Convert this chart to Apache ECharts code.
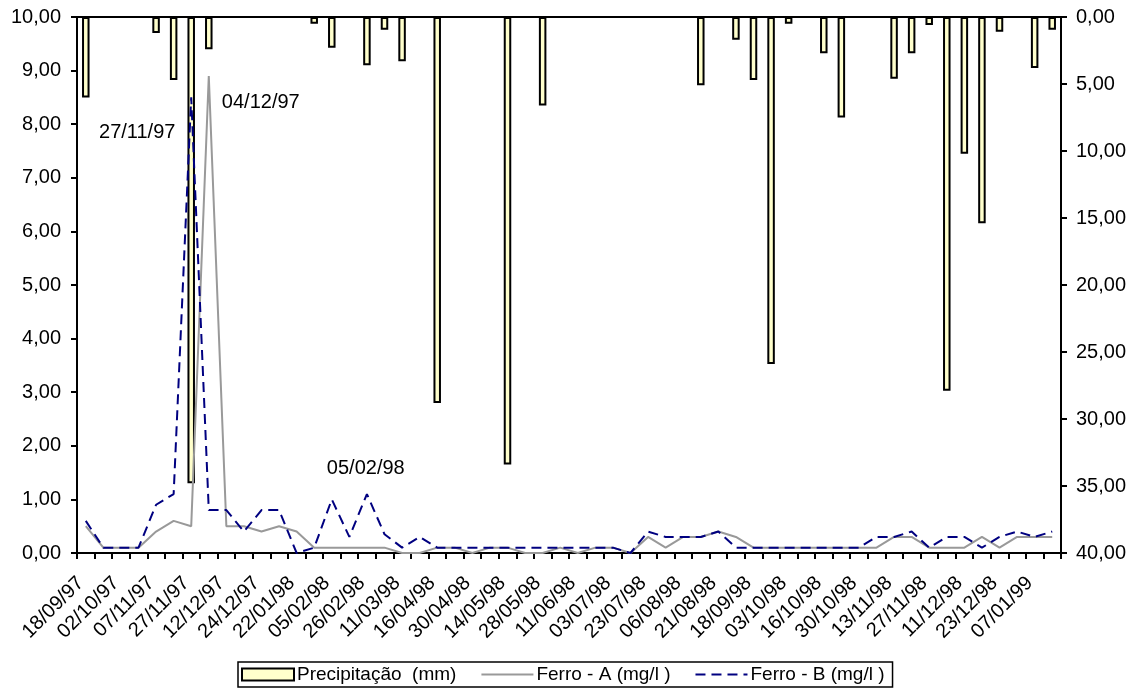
<!DOCTYPE html>
<html>
<head>
    <meta charset="utf-8">
    <title>Precipitação e Ferro</title>
    <script src="https://cdn.jsdelivr.net/npm/echarts@6.0.0/dist/echarts.min.js"></script>
    <style>
        html, body { margin: 0; padding: 0; background: #fff; }
        #chart1 { width: 1132px; height: 693px; }
    </style>
</head>
<body>
<div id="chart1"></div>
<script type="text/javascript">
    // datas das coletas (só as pares aparecem no eixo)
    var datas = [
        '18/09/97', '25/09/97', '02/10/97', '23/10/97', '07/11/97', '20/11/97', '27/11/97', '04/12/97',
        '12/12/97', '18/12/97', '24/12/97', '08/01/98', '22/01/98', '29/01/98', '05/02/98', '12/02/98',
        '26/02/98', '05/03/98', '11/03/98', '26/03/98', '16/04/98', '23/04/98', '30/04/98', '07/05/98',
        '14/05/98', '21/05/98', '28/05/98', '04/06/98', '11/06/98', '25/06/98', '03/07/98', '16/07/98',
        '23/07/98', '30/07/98', '06/08/98', '13/08/98', '21/08/98', '04/09/98', '18/09/98', '25/09/98',
        '03/10/98', '09/10/98', '16/10/98', '23/10/98', '30/10/98', '06/11/98', '13/11/98', '20/11/98',
        '27/11/98', '04/12/98', '11/12/98', '17/12/98', '23/12/98', '30/12/98', '07/01/99', '14/01/99'
    ];

    // precipitação (mm), eixo da direita invertido
    var precipitacao = [
        6.0, null, null, null, 1.2, 4.7, 34.8, 2.4,
        null, null, null, null, null, 0.5, 2.3, null,
        3.6, 0.95, 3.3, null, 28.8, null, null, null,
        33.4, null, 6.6, null, null, null, null, null,
        null, null, null, 5.1, null, 1.7, 4.7, 25.9,
        0.5, null, 2.7, 7.5, null, null, 4.6, 2.7,
        0.6, 27.9, 10.2, 15.4, 1.1, null, 3.8, 0.95
    ];

    // Ferro - A (mg/l)
    var ferroA = [
        0.5, 0.1, 0.1, 0.1, 0.4, 0.6, 0.5, 8.9,
        0.5, 0.5, 0.4, 0.5, 0.4, 0.1, 0.1, 0.1,
        0.1, 0.1, 0, 0, 0.1, 0.1, 0, 0.1,
        0.1, 0, 0, 0.1, 0, 0.1, 0.1, 0,
        0.3, 0.1, 0.3, 0.3, 0.4, 0.3, 0.1, 0.1,
        0.1, 0.1, 0.1, 0.1, 0.1, 0.1, 0.3, 0.3,
        0.1, 0.1, 0.1, 0.3, 0.1, 0.3, 0.3, 0.3
    ];

    // Ferro - B (mg/l)
    var ferroB = [
        0.6, 0.1, 0.1, 0.1, 0.9, 1.1, 8.5, 0.8,
        0.8, 0.4, 0.8, 0.8, 0.0, 0.1, 1.0, 0.3,
        1.1, 0.35, 0.1, 0.3, 0.1, 0.1, 0.1, 0.1,
        0.1, 0.1, 0.1, 0.1, 0.1, 0.1, 0.1, 0,
        0.4, 0.3, 0.3, 0.3, 0.4, 0.1, 0.1, 0.1,
        0.1, 0.1, 0.1, 0.1, 0.1, 0.3, 0.3, 0.4,
        0.1, 0.3, 0.3, 0.1, 0.3, 0.4, 0.3, 0.4
    ];

    var fonte = "'Liberation Sans', Arial, sans-serif";

    function virgula(v) {
        return v.toFixed(2).replace('.', ',');
    }

    var myChart1 = echarts.init(document.getElementById('chart1'));

    myChart1.setOption({
        animation: false,
        backgroundColor: '#fff',
        textStyle: { fontFamily: fonte, color: '#000' },
        grid: {
            left: 77, right: 71, top: 17, bottom: 140,
            containLabel: false,
            outerBoundsMode: 'none',
            show: true,
            borderColor: '#000',
            borderWidth: 2
        },
        legend: {
            left: 238,
            top: 662,
            orient: 'horizontal',
            borderColor: '#000',
            borderWidth: 1.5,
            padding: [3, 8, 3, 3],
            itemWidth: 52,
            itemHeight: 12,
            itemGap: 24,
            textStyle: { fontSize: 19, color: '#000', fontFamily: fonte, padding: [0, 0, 0, -2] },
            data: [
                { name: 'Precipitação  (mm)', icon: 'rect' },
                { name: 'Ferro - A (mg/l )', itemStyle: { opacity: 0 } },
                { name: 'Ferro - B (mg/l )', itemStyle: { opacity: 0 }, lineStyle: { type: [10, 6] } }
            ]
        },
        xAxis: {
            type: 'category',
            data: datas,
            boundaryGap: true,
            axisLine: { show: true, lineStyle: { color: '#000', width: 2 } },
            axisTick: { show: true, interval: 0, length: 6, lineStyle: { color: '#000', width: 2 } },
            axisLabel: {
                interval: 1,
                rotate: 45,
                margin: 22,
                padding: [0, 7, 0, 0],
                fontSize: 20,
                color: '#000',
                fontFamily: fonte
            },
            splitLine: { show: false }
        },
        yAxis: [
            {
                type: 'value',
                min: 0, max: 10, interval: 1,
                axisLine: { show: true, lineStyle: { color: '#000', width: 2 } },
                axisTick: { show: true, length: 6, lineStyle: { color: '#000', width: 2 } },
                axisLabel: { fontSize: 20, color: '#000', margin: 16, formatter: virgula, fontFamily: fonte },
                splitLine: { show: false }
            },
            {
                type: 'value',
                min: 0, max: 40, interval: 5,
                inverse: true,
                position: 'right',
                axisLine: { show: true, lineStyle: { color: '#000', width: 2 } },
                axisTick: { show: true, length: 6, lineStyle: { color: '#000', width: 2 } },
                axisLabel: { fontSize: 20, color: '#000', margin: 15, formatter: virgula, fontFamily: fonte },
                splitLine: { show: false }
            }
        ],
        series: [
            {
                name: 'Precipitação  (mm)',
                type: 'bar',
                yAxisIndex: 1,
                barWidth: 7.5,
                data: precipitacao,
                itemStyle: { color: '#FFFFCC', borderColor: '#000', borderWidth: 2 },
                z: 1
            },
            {
                name: 'Ferro - A (mg/l )',
                type: 'line',
                yAxisIndex: 0,
                symbol: 'none',
                data: ferroA,
                lineStyle: { color: '#999999', width: 2 },
                itemStyle: { color: '#999999' },
                z: 2,
                markPoint: {
                    symbolSize: 0,
                    label: { show: true, fontSize: 20, color: '#000', fontFamily: fonte },
                    data: [
                        { coord: ['04/12/97', 8.4], label: { formatter: '04/12/97', offset: [52, 0] } }
                    ]
                }
            },
            {
                name: 'Ferro - B (mg/l )',
                type: 'line',
                yAxisIndex: 0,
                symbol: 'none',
                data: ferroB,
                lineStyle: { color: '#000080', width: 2, type: [10, 6] },
                itemStyle: { color: '#000080' },
                z: 3,
                markPoint: {
                    symbolSize: 0,
                    label: { show: true, fontSize: 20, color: '#000', fontFamily: fonte },
                    data: [
                        { coord: ['27/11/97', 7.84], label: { formatter: '27/11/97', offset: [-54, 0] } },
                        { coord: ['05/02/98', 1.57], label: { formatter: '05/02/98', offset: [34, 0] } }
                    ]
                }
            }
        ]
    });
</script>
</body>
</html>
